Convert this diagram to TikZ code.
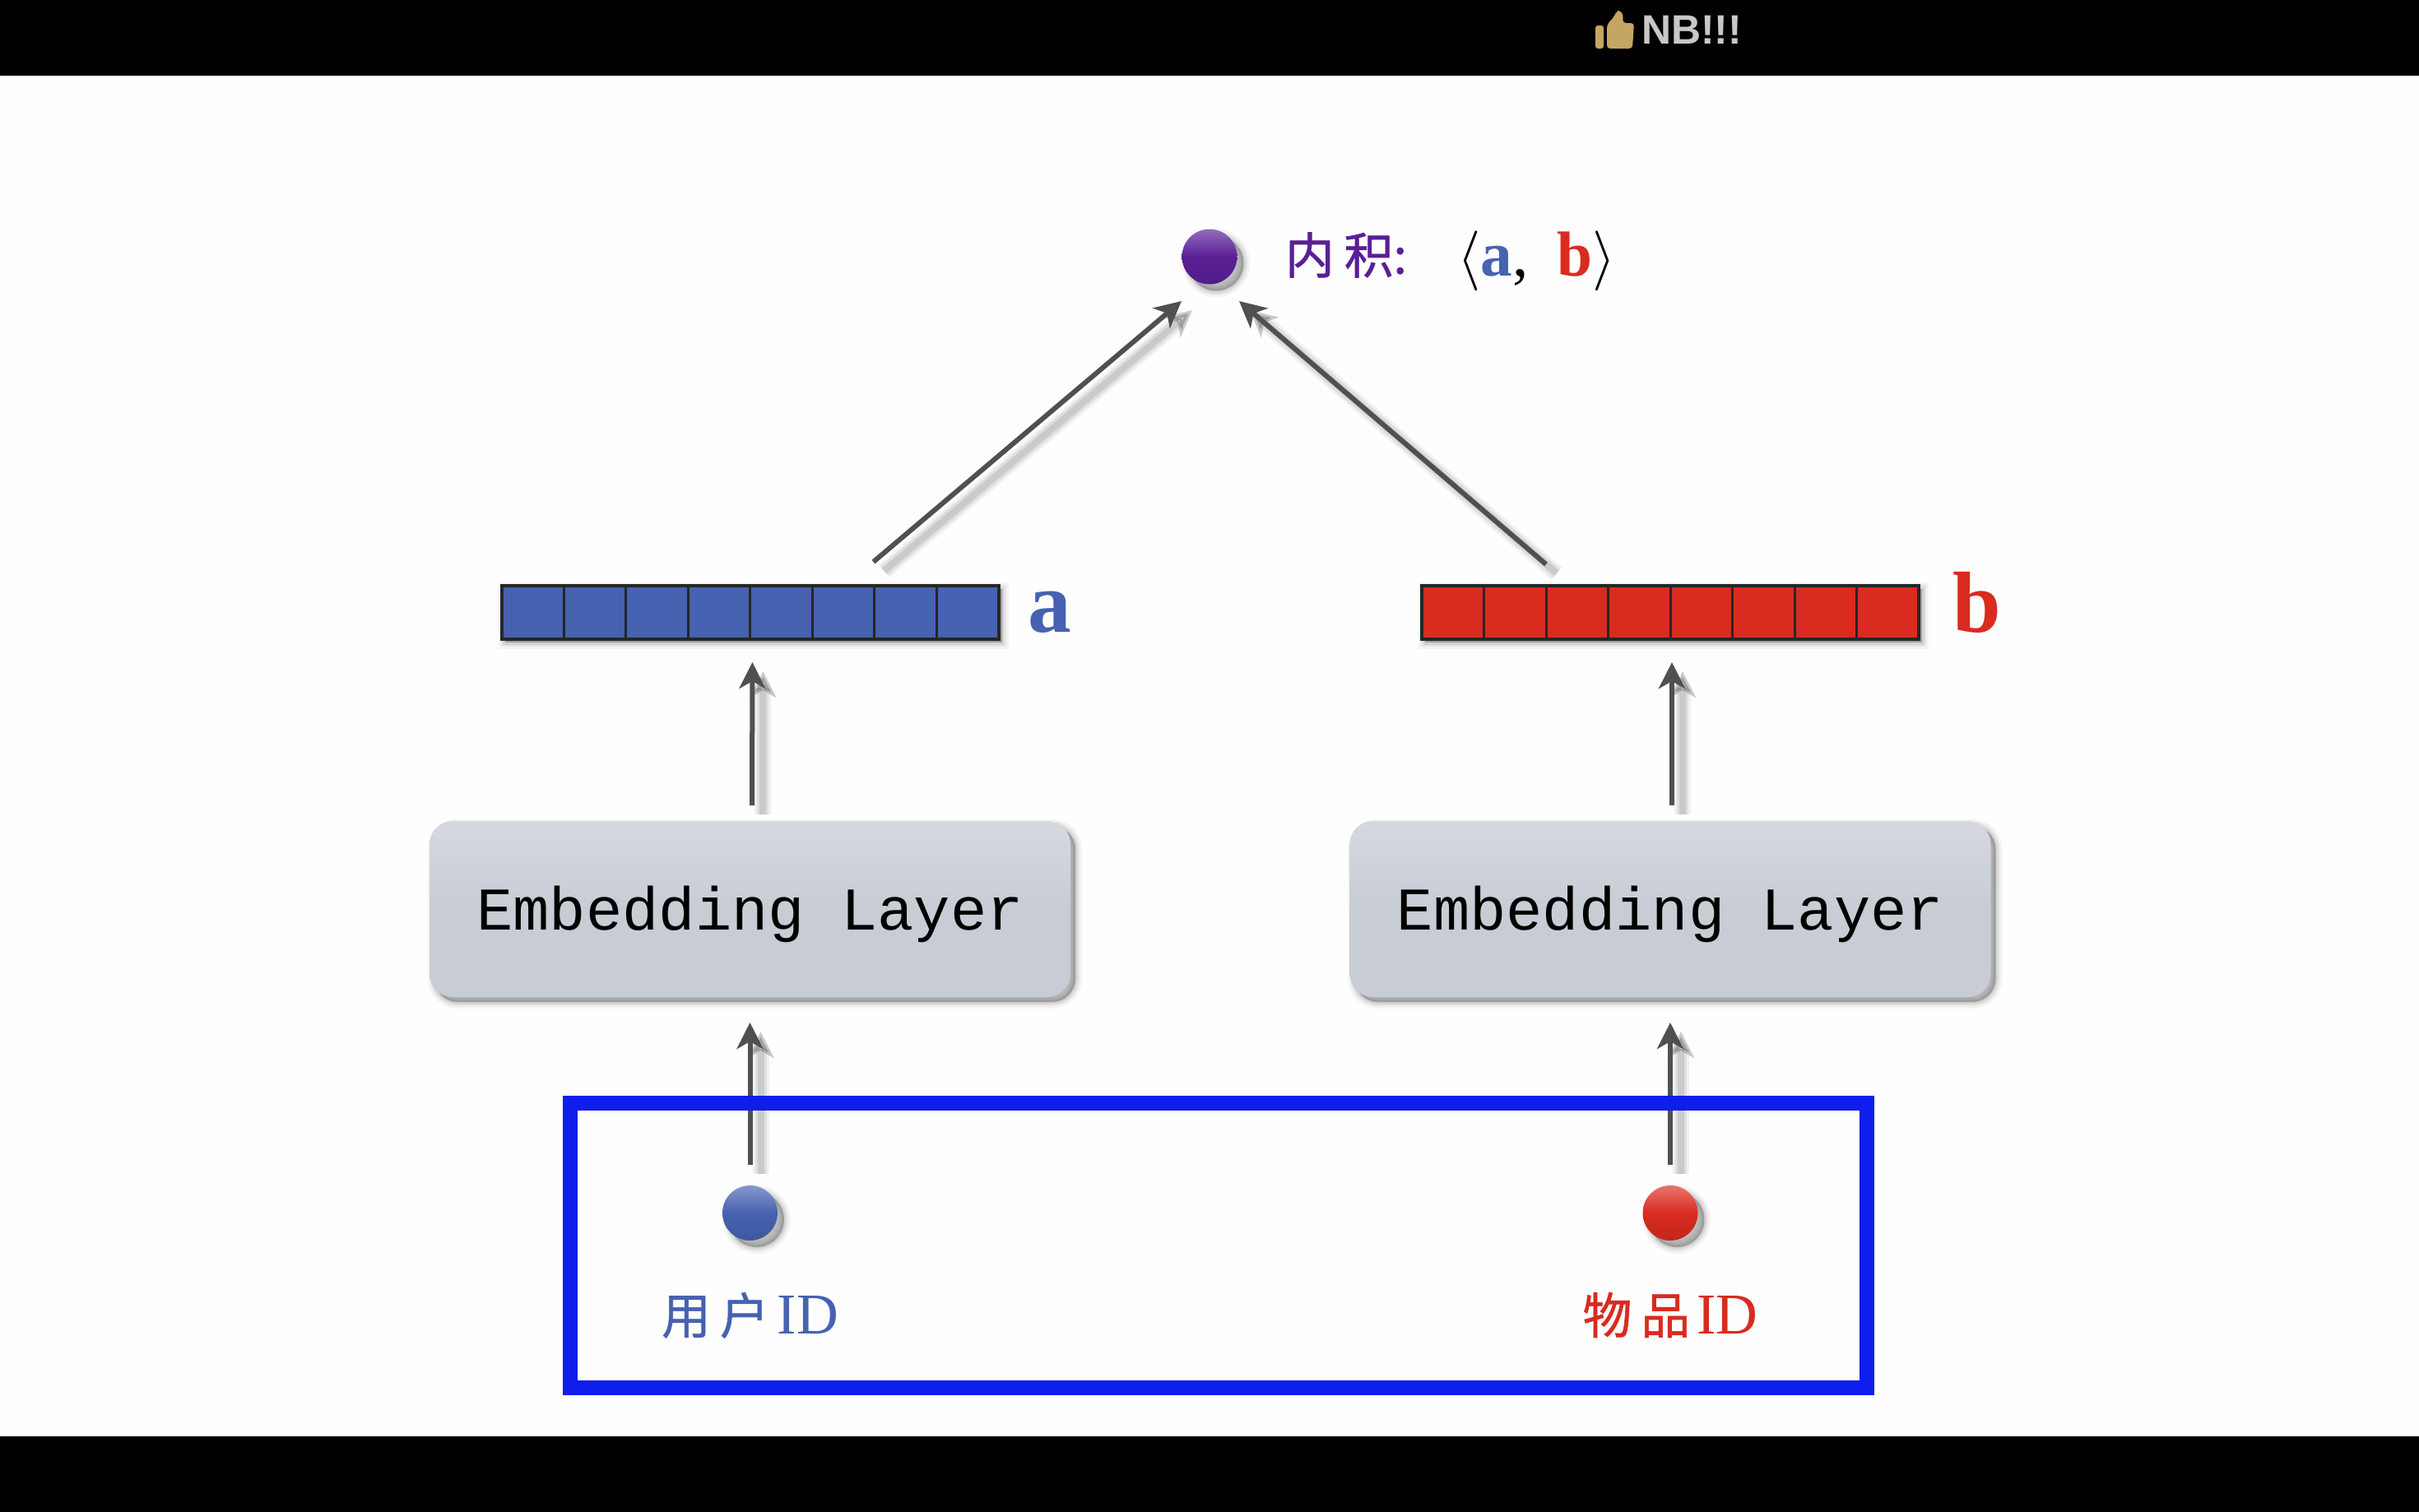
\documentclass[tikz,border=0pt]{standalone}
\usepackage{fontspec}
\setmainfont{Liberation Serif}
\newfontfamily\cjk[FakeBold=1]{Noto Sans CJK SC}
\newfontfamily\monobox{Liberation Mono}
\newfontfamily\barfont{Liberation Sans}
\usepackage{xcolor}
\usepackage{tikz}
\usetikzlibrary{positioning,arrows.meta,shadows}
\definecolor{userblue}{HTML}{4662B0}
\definecolor{itemred}{HTML}{D92B1F}
\definecolor{dotpurple}{HTML}{5A1F96}
\definecolor{framblue}{HTML}{0F1EEC}
\definecolor{arrowgray}{HTML}{505050}
\definecolor{boxgray}{HTML}{C8CCD4}
\definecolor{thumbtan}{HTML}{C4A564}
\definecolor{bartext}{HTML}{C8C8C8}

\begin{document}
\begin{tikzpicture}[
  outer sep=0pt,
  softshadow/.style={
    general shadow={fill=black,draw=black,line width=.16cm,opacity=.04,shadow xshift=#1,shadow yshift=-#1},
    general shadow={fill=black,draw=black,line width=.1cm,opacity=.06,shadow xshift=#1,shadow yshift=-#1},
    general shadow={fill=black,draw=black,line width=.05cm,opacity=.08,shadow xshift=#1,shadow yshift=-#1},
    general shadow={fill=black,opacity=.1,shadow xshift=#1,shadow yshift=-#1}},
  embbox/.style={softshadow=.06cm,rounded corners=.28cm,minimum width=7.79cm,minimum height=2.14cm,
    top color=boxgray!75!white,bottom color=boxgray,middle color=boxgray,text height=.7cm,text depth=.2cm,
    font={\monobox\fontsize{21}{25}\selectfont}},
  vecbox/.style={softshadow=.04cm,draw=black!85,line width=.04cm,minimum width=6.04cm,minimum height=.65cm,fill=#1},
  dot/.style={softshadow=.08cm,circle,minimum size=.67cm,inner sep=0pt,top color=#1!65!white,bottom color=#1!90!black,middle color=#1},
  veclabel/.style={font={\bfseries\fontsize{30}{36}\selectfont},inner sep=0pt,anchor=base west},
  idlabel/.style={font={\fontsize{20}{24}\selectfont},inner sep=0pt},
  conn/.style={draw=arrowgray,line width=.06cm,-{Stealth[length=3.2mm,width=3.2mm,inset=.9mm]},
    preaction={draw=black,opacity=.05,line width=.2cm,transform canvas={shift={(.13,-.11)}}},
    preaction={draw=black,opacity=.07,line width=.14cm,transform canvas={shift={(.13,-.11)}}},
    preaction={draw=black,opacity=.09,line width=.08cm,transform canvas={shift={(.13,-.11)}}}}]
\useasboundingbox (0,0) rectangle (29.4,-18.38);
\fill[white!99.5!black] (0,0) rectangle (29.4,-18.38);
\fill[black] (0,0) rectangle (29.4,-.92);
\fill[black] (0,-17.46) rectangle (29.4,-18.38);
% thumb icon
\fill[thumbtan,rounded corners=.03cm] (19.39,-.31) rectangle (19.49,-.59);
\fill[thumbtan,rounded corners=.04cm] (19.53,-.59) -- (19.53,-.30) -- (19.62,-.20) -- (19.65,-.13) -- (19.69,-.13)
  -- (19.73,-.18) -- (19.72,-.28) -- (19.86,-.28) -- (19.84,-.59) -- cycle;
\node[text=bartext,inner sep=0pt,anchor=west,font={\barfont\bfseries\fontsize{14.2}{17}\selectfont}] (nb) at (19.95,-.36) {NB!!!};

\node[embbox] (emb1) at (9.115,-11.05) {Embedding Layer};
\node[embbox] (emb2) at (20.30,-11.05) {Embedding Layer};
\node[vecbox=userblue,above=2.21cm of emb1] (veca) {};
\node[vecbox=itemred,above=2.21cm of emb2] (vecb) {};
\foreach \i in {1,...,7} {
  \draw[black!85,line width=.03cm] ([xshift=\i*.755cm]veca.south west) -- ([xshift=\i*.755cm]veca.north west);
  \draw[black!85,line width=.03cm] ([xshift=\i*.755cm]vecb.south west) -- ([xshift=\i*.755cm]vecb.north west);
}
\node[veclabel,text=userblue] (laba) at ([xshift=.36cm,yshift=.09cm]veca.south east) {a};
\node[veclabel,text=itemred] (labb) at ([xshift=.41cm,yshift=.09cm]vecb.south east) {b};

\node[dot=userblue,below=2.29cm of emb1] (uid) {};
\node[dot=itemred,below=2.29cm of emb2] (iid) {};
\node[idlabel,text=userblue,below=.63cm of uid] (uidtxt) {{\cjk\fontsize{17}{20}\selectfont 用\hspace{.11cm}户}\hspace{.1cm}ID};
\node[idlabel,text=itemred,below=.63cm of iid] (iidtxt) {{\cjk\fontsize{17}{20}\selectfont 物\hspace{.11cm}品}\hspace{.08cm}ID};

\node[dot=dotpurple] (inner) at (14.70,-3.12) {};
\node[inner sep=0pt,text=dotpurple,anchor=west,font={\cjk\fontsize{17}{20}\selectfont}] (innertxt) at (15.62,-3.10) {内\hspace{.12cm}积:};
\node[inner sep=0pt,anchor=west,font={\bfseries\fontsize{22}{26}\selectfont}] (formula) at (17.71,-3.17)
  {$\langle$\textcolor{userblue}{a}{\mdseries,}\hspace{.35cm}\textcolor{itemred}{b}$\rangle$};

\coordinate (taila) at ([yshift=.29cm,xshift=1.50cm]veca.north);
\coordinate (tailb) at ([yshift=.26cm,xshift=-1.51cm]vecb.north);

\draw[conn] (taila) -- ([xshift=-.34cm,yshift=-.54cm]inner.center);
\draw[conn] (tailb) -- ([xshift=.36cm,yshift=-.54cm]inner.center);
\draw[conn,shorten <=.19cm,shorten >=.28cm] ([xshift=.025cm]emb1.north) -- ([xshift=.03cm]veca.south);
\draw[conn,shorten <=.19cm,shorten >=.28cm] ([xshift=.02cm]emb2.north) -- ([xshift=.02cm]vecb.south);
\draw[conn,shorten <=.25cm,shorten >=.31cm] (uid.north) -- (uid.north |- emb1.south);
\draw[conn,shorten <=.25cm,shorten >=.31cm] (iid.north) -- (iid.north |- emb2.south);

\node[draw=framblue,line width=.18cm,minimum width=15.76cm,minimum height=3.465cm] (frame) at (14.805,-15.1375) {};
\end{tikzpicture}
\end{document}
